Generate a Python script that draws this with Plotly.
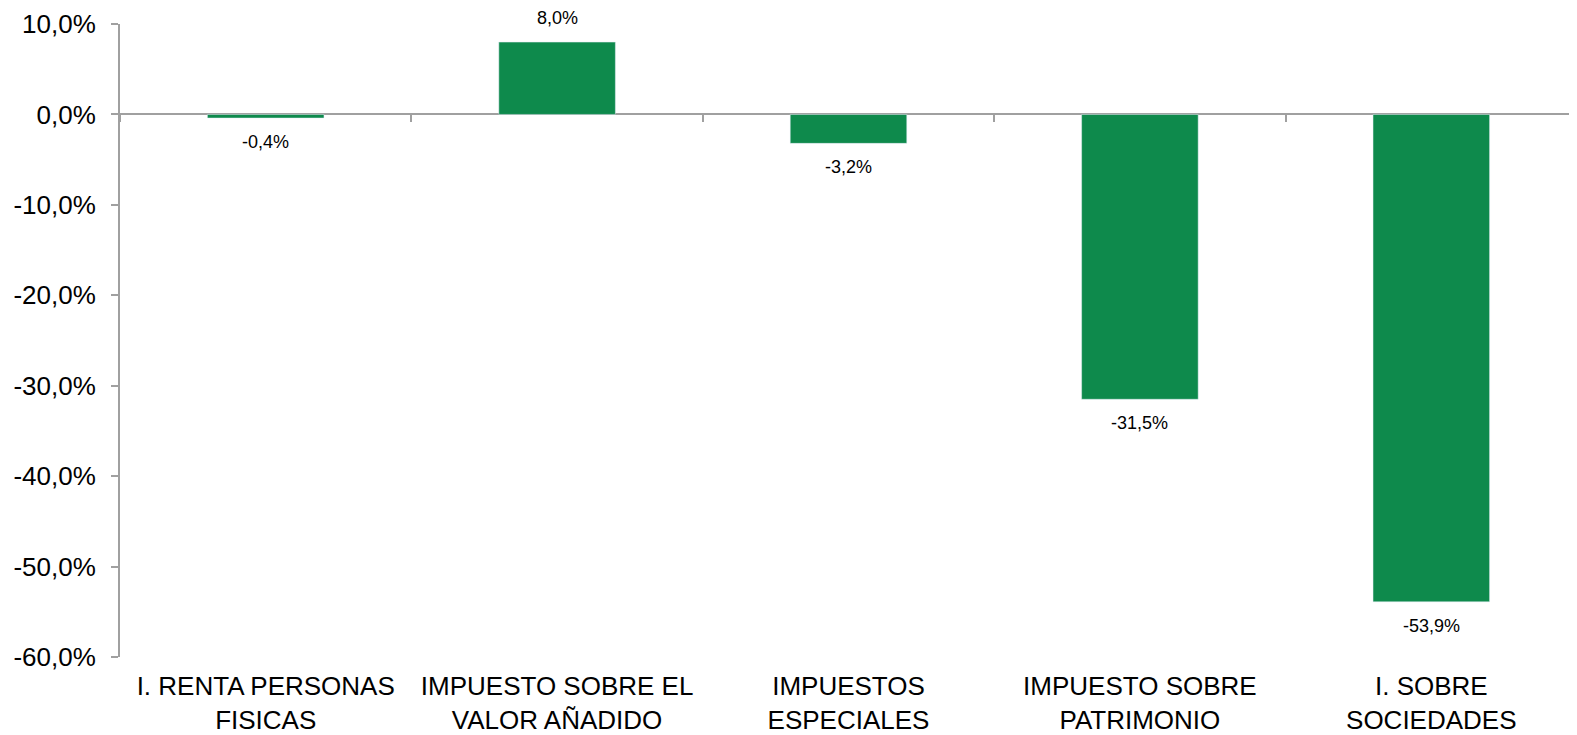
import plotly.graph_objects as go

categorias = ['I. RENTA PERSONAS<br>FISICAS', 'IMPUESTO SOBRE EL<br>VALOR AÑADIDO',
              'IMPUESTOS<br>ESPECIALES', 'IMPUESTO SOBRE<br>PATRIMONIO', 'I. SOBRE<br>SOCIEDADES']
variacion = [-0.4, 8.0, -3.2, -31.5, -53.9]
ticks_y = [10, 0, -10, -20, -30, -40, -50, -60]

def pct(v):
    return f'{v:.1f}%'.replace('.', ',')

verde = '#0e8a4c'
gris = '#a0a0a0'

fig = go.Figure()
fig.add_trace(go.Bar(x=categorias, y=variacion, marker_color=verde, width=0.4,
                     hoverinfo='x+y'))
# invisible trace on the second x axis (ticks on the zero line)
fig.add_trace(go.Scatter(x=categorias, y=[0] * len(categorias), xaxis='x2',
                         mode='markers', marker_opacity=0, showlegend=False,
                         hoverinfo='skip'))

# data labels, Excel style: a fixed gap past the end of each bar
for cat, v in zip(categorias, variacion):
    fig.add_annotation(x=cat, y=v, text=pct(v), showarrow=False,
                       yshift=24 if v >= 0 else -24, yanchor='middle',
                       font=dict(size=18, color='black'))

# page body adds 8px margin, so the figure is a bit smaller than the window
fig.update_layout(
    width=1569, height=727,
    margin=dict(l=112, r=0, t=16, b=78, autoexpand=False),
    plot_bgcolor='white', paper_bgcolor='white',
    showlegend=False,
    font=dict(family='Liberation Sans', color='black'),
    xaxis=dict(type='category', categoryarray=categorias, showline=False,
               ticks='', tickfont=dict(size=26), automargin=False,
               ticklabelstandoff=11),
    xaxis2=dict(type='category', categoryarray=categorias, matches='x',
                overlaying='x', anchor='free', position=60 / 70,
                side='bottom', showline=False, showticklabels=False,
                ticks='outside', tickson='boundaries', ticklen=7,
                tickcolor=gris, tickwidth=2, showgrid=False),
    yaxis=dict(range=[-60, 10], tickvals=ticks_y,
               ticktext=[pct(v) for v in ticks_y], tickfont=dict(size=26),
               automargin=False, ticklabelstandoff=10,
               showline=True, linecolor=gris, linewidth=2,
               ticks='outside', ticklen=7, tickcolor=gris, tickwidth=2,
               showgrid=False, zeroline=True, zerolinecolor=gris,
               zerolinewidth=2),
)

fig.write_html('out.html')
